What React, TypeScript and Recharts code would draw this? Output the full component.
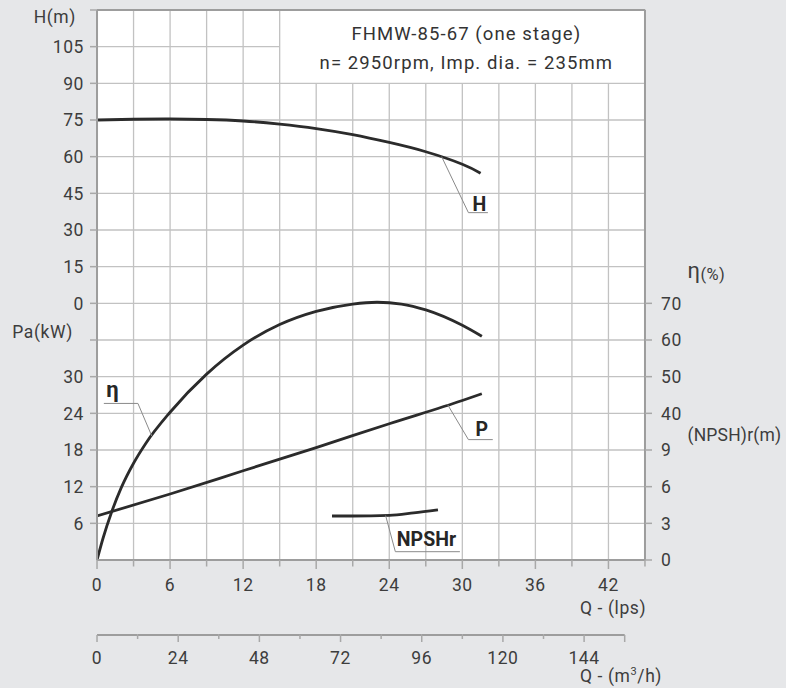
import React from 'react';
import { ComposedChart, Line, XAxis, YAxis, CartesianGrid, ReferenceArea, ReferenceLine } from 'recharts';

// H curve (Q in lps, H in m)
const headFlow = [0, 3, 6, 9, 12, 15, 18, 21, 24, 27, 30, 31.5];
const headValues = [75.0, 75.3, 75.4, 75.2, 74.6, 73.3, 71.5, 69.0, 65.8, 62.0, 56.9, 53.2];

// efficiency (%)
const effFlow = [0, 0.5, 1.2, 2, 3, 4, 6, 9, 12, 15, 18, 21, 23, 25, 27, 30, 31.6];
const effValues = [0, 6.0, 13.1, 19.8, 26.4, 31.8, 40.3, 50.7, 58.6, 64.2, 67.8, 69.8, 70.3, 69.8, 68.2, 64.0, 61.0];

// shaft power (kW)
const powerFlow = [0, 6, 12, 18, 24, 30, 31.6];
const powerValues = [7.2, 10.8, 14.6, 18.4, 22.3, 26.1, 27.2];

// NPSHr (m)
const npshFlow = [19.3, 21, 24, 26, 28];
const npshValues = [3.6, 3.6, 3.65, 3.85, 4.1];

const flowTicks = [0, 3, 6, 9, 12, 15, 18, 21, 24, 27, 30, 33, 36, 39, 42, 45];
const m3hTicks = [0, 12, 24, 36, 48, 60, 72, 84, 96, 108, 120, 132, 144, 156];
const headTicks = [0, 15, 30, 45, 60, 75, 90, 105, 120];
const powerTicks = [6, 12, 18, 24, 30, 36];
const effTicks = [40, 50, 60, 70];
const npshTicks = [0, 3, 6, 9];
const gridRows = [0, 1, 2, 3, 4, 5, 6, 7, 8, 9, 10, 11, 12, 13, 14, 15];

const toRows = (xs: number[], ys: number[], key: string) => xs.map((q, i) => ({ q, [key]: ys[i] }));
const headData = toRows(headFlow, headValues, 'h');
const effData = toRows(effFlow, effValues, 'eta');
const powerData = toRows(powerFlow, powerValues, 'p');
const npshData = toRows(npshFlow, npshValues, 'npsh');

// curve name tags with leader lines (data coordinates)
const leaders = [
  { text: 'H', axis: 'h', from: [28.3, 60.0], knee: [30.5, 37.1], end: 32.1, dx: 4, dy: -2 },
  { text: 'P', axis: 'pa', from: [28.8, 25.4], knee: [30.5, 19.7], end: 32.5, dx: 7, dy: -4 },
  { text: 'η', axis: 'eta', from: [4.5, 33.8], knee: [3.36, 42.7], end: 0.56, dx: 2.5, dy: -6 },
  { text: 'NPSHr', axis: 'npsh', from: [23.7, 3.64], knee: [24.5, 0.68], end: 29.8, dx: 1.5, dy: -6 },
];

const W = 786;
const H = 688;
const LEFT = 97;
const RIGHT = 141;
const PLOT_W = W - LEFT - RIGHT;
const M3H_MAX = 162;
const AXW = 0.01;

const BORDER = '#9d9d9d';
const TICK = '#a8a8a8';
const TEXT = '#3d3d3d';
const CURVE = '#2b2b2b';
const FONT = 17.5;

const tickStyle = { fill: TEXT, fontSize: FONT, letterSpacing: 0.6 };
const tickLineStyle = { stroke: TICK, strokeWidth: 1.5 };
const axisLineStyle = { stroke: BORDER, strokeWidth: 2 };
const flowDomain = [0, 45];
const m3hDomain = [0, M3H_MAX];
const gridDomain = [0, 15];
const headDomain = [-105, 120];
const powerDomain = [0, 90];
const effDomain = [0, 150];
const npshDomain = [0, 45];

function FlowTick(props: any) {
  const { x, y, payload } = props;
  const v = payload.value;
  const major = v % 6 === 0;
  return (
    <g>
      <line x1={x} x2={x} y1={y} y2={y + (major ? 9 : 6.5)} stroke={TICK} strokeWidth={1.5} />
      {major && v <= 42 && (
        <text x={x} y={y + 30.5} textAnchor="middle" fill={TEXT} fontSize={FONT} letterSpacing={0.6}>
          {v}
        </text>
      )}
    </g>
  );
}

function M3hTick(props: any) {
  const { x, y, payload } = props;
  const v = payload.value;
  const last = v === m3hTicks[m3hTicks.length - 1];
  const major = v % 24 === 0 || last;
  const step = (PLOT_W * 12) / M3H_MAX;
  return (
    <g>
      {!last && <line x1={x} x2={x + step} y1={y} y2={y} stroke={BORDER} strokeWidth={2} />}
      <line x1={x} x2={x} y1={y} y2={y + (major ? 7 : 4)} stroke={TICK} strokeWidth={1.5} />
      {v % 24 === 0 && !last && (
        <text x={x} y={y + 28.5} textAnchor="middle" fill={TEXT} fontSize={FONT} letterSpacing={0.6}>
          {v}
        </text>
      )}
    </g>
  );
}

const textAt = (dx: number, dy: number, body: React.ReactNode, extra: any = {}) => (p: any) => {
  const vb = p.viewBox || {};
  return (
    <text x={vb.x + dx} y={vb.y + dy} fill={TEXT} fontSize={FONT} letterSpacing={0.6} {...extra}>
      {body}
    </text>
  );
};

const titleLabel = (p: any) => {
  const vb = p.viewBox || {};
  const cx = vb.x + vb.width / 2 + 4;
  return (
    <g fill="#333" fontSize={18.5} letterSpacing={1.1} textAnchor="middle">
      <text x={cx} y={vb.y + 29.5}>FHMW-85-67 (one stage)</text>
      <text x={cx} y={vb.y + 58.5}>n= 2950rpm, Imp. dia. = 235mm</text>
    </g>
  );
};

const flowTickEl = <FlowTick />;
const m3hTickEl = <M3hTick />;
const flowLabel = textAt(483, 54, 'Q - (lps)');
const m3hLabel = textAt(
  483,
  46.5,
  <>
    Q - (m<tspan fontSize={11} dy={-7}>3</tspan>
    <tspan dy={7}>/h)</tspan>
  </>
);
const headLabel = textAt(-21, 13, 'H(m)', { textAnchor: 'end' });
const powerLabel = textAt(-24, 328, 'Pa(kW)', { textAnchor: 'end' });
const effLabel = textAt(
  42.5,
  267.5,
  <>
    <tspan fontSize={22}>η</tspan>
    <tspan fontSize={16.5} dy={2.5} letterSpacing={0.3}>(%)</tspan>
  </>
);
const npshLabel = textAt(42.5, 430.5, '(NPSH)r(m)', { letterSpacing: 0.2 });
const headFmt = (v: number) => (v === 120 ? '' : String(v));
const powerFmt = (v: number) => (v === 36 ? '' : String(v));

export default function App() {
  return (
    <div style={{ position: 'absolute', left: 0, top: 0, width: W, height: H, background: '#e6e7e9' }}>
      <ComposedChart
        width={W}
        height={H}
        data={headData}
        margin={{ top: 10, right: RIGHT, left: LEFT, bottom: 0 }}
        style={{ fontFamily: 'Roboto' }}
      >
        <CartesianGrid xAxisId="q" yAxisId="grid" fill="#ffffff" stroke="#c2c2c2" strokeWidth={1.3} />
        <ReferenceArea
          xAxisId="q"
          yAxisId="h"
          x1={15}
          x2={45}
          y1={90}
          y2={120}
          fill="#ffffff"
          fillOpacity={1}
          stroke="#c2c2c2"
          strokeWidth={1.3}
          label={titleLabel}
        />

        <XAxis
          xAxisId="q"
          dataKey="q"
          type="number"
          domain={flowDomain}
          ticks={flowTicks}
          allowDataOverflow
          height={75}
          tickLine={false}
          tickSize={0}
          tickMargin={0}
          axisLine={axisLineStyle}
          tick={flowTickEl}
          interval={0}
          label={flowLabel}
        />
        <XAxis
          xAxisId="z"
          dataKey="m3h"
          type="number"
          domain={m3hDomain}
          ticks={m3hTicks}
          allowDataOverflow
          height={53}
          tickLine={false}
          tickSize={0}
          tickMargin={0}
          axisLine={false}
          tick={m3hTickEl}
          interval={0}
          label={m3hLabel}
        />

        <YAxis yAxisId="grid" type="number" domain={gridDomain} ticks={gridRows} allowDataOverflow hide width={0} />
        <YAxis
          yAxisId="h"
          type="number"
          domain={headDomain}
          ticks={headTicks}
          allowDataOverflow
          width={AXW}
          interval={0}
          tickSize={7}
          tickMargin={6}
          tickLine={tickLineStyle}
          axisLine={axisLineStyle}
          tick={tickStyle}
          tickFormatter={headFmt}
          label={headLabel}
        />
        <YAxis
          yAxisId="pa"
          type="number"
          domain={powerDomain}
          ticks={powerTicks}
          allowDataOverflow
          width={AXW}
          interval={0}
          tickSize={7}
          tickMargin={6}
          tickLine={tickLineStyle}
          axisLine={false}
          tick={tickStyle}
          tickFormatter={powerFmt}
          label={powerLabel}
        />
        <YAxis
          yAxisId="eta"
          orientation="right"
          type="number"
          domain={effDomain}
          ticks={effTicks}
          allowDataOverflow
          width={AXW}
          interval={0}
          tickSize={7}
          tickMargin={9}
          tickLine={tickLineStyle}
          axisLine={axisLineStyle}
          tick={tickStyle}
          label={effLabel}
        />
        <YAxis
          yAxisId="npsh"
          orientation="right"
          type="number"
          domain={npshDomain}
          ticks={npshTicks}
          allowDataOverflow
          width={AXW}
          interval={0}
          tickSize={7}
          tickMargin={9}
          tickLine={tickLineStyle}
          axisLine={false}
          tick={tickStyle}
          label={npshLabel}
        />

        <ReferenceLine xAxisId="q" yAxisId="h" y={120} stroke={BORDER} strokeWidth={2} />

        <Line xAxisId="q" yAxisId="h" data={headData} dataKey="h" type="natural" stroke={CURVE} strokeWidth={2.8} dot={false} activeDot={false} isAnimationActive={false} />
        <Line xAxisId="q" yAxisId="eta" data={effData} dataKey="eta" type="monotone" stroke={CURVE} strokeWidth={2.8} dot={false} activeDot={false} isAnimationActive={false} />
        <Line xAxisId="q" yAxisId="pa" data={powerData} dataKey="p" type="monotone" stroke={CURVE} strokeWidth={2.8} dot={false} activeDot={false} isAnimationActive={false} />
        <Line xAxisId="q" yAxisId="npsh" data={npshData} dataKey="npsh" type="monotone" stroke={CURVE} strokeWidth={2.8} dot={false} activeDot={false} isAnimationActive={false} />

        {leaders.map((l) => (
          <ReferenceLine
            key={l.text + '-a'}
            xAxisId="q"
            yAxisId={l.axis}
            segment={[
              { x: l.from[0], y: l.from[1] },
              { x: l.knee[0], y: l.knee[1] },
            ]}
            stroke="#8a8a8a"
            strokeWidth={1}
          />
        ))}
        {leaders.map((l) => (
          <ReferenceLine
            key={l.text + '-b'}
            xAxisId="q"
            yAxisId={l.axis}
            segment={[
              { x: l.knee[0], y: l.knee[1] },
              { x: l.end, y: l.knee[1] },
            ]}
            stroke="#8a8a8a"
            strokeWidth={1}
            label={textAt(l.dx, l.dy, l.text, {
              fontSize: l.text === 'η' ? 22 : 19.5,
              fontWeight: 'bold',
              fill: '#262626',
              letterSpacing: 0,
            })}
          />
        ))}
      </ComposedChart>
    </div>
  );
}
